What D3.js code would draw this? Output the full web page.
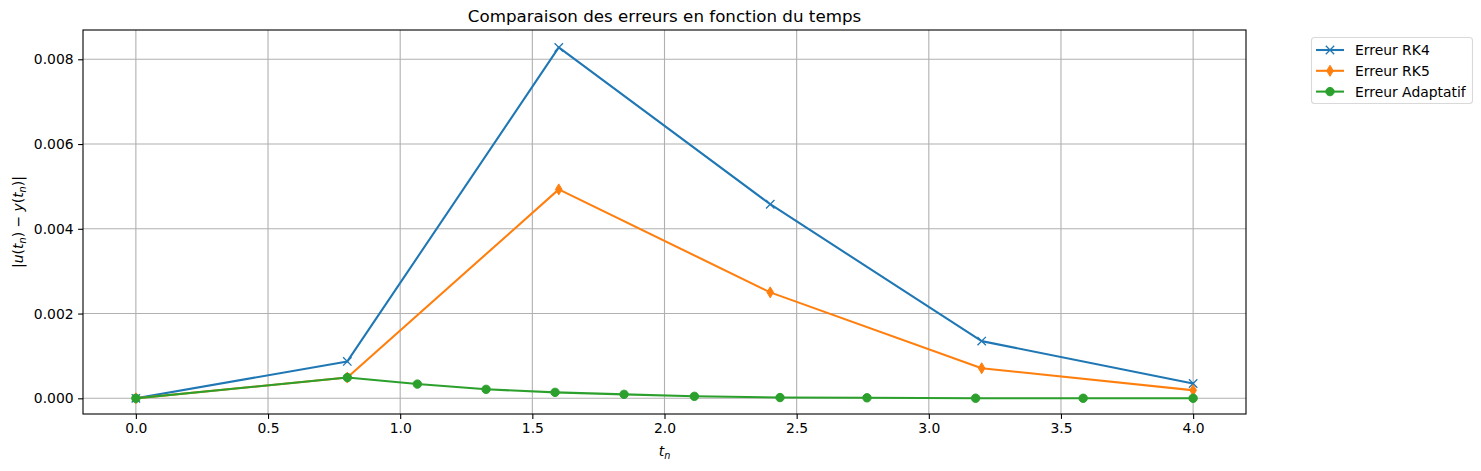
<!DOCTYPE html>
<html lang="en">
  <head>
    <meta charset="utf-8" />
    <title>Comparaison des erreurs</title>
    <style>
      html, body { margin: 0; padding: 0; background: #fff; }
      svg { display: block; font-family: "DejaVu Sans", sans-serif; }
    </style>
    <script src="https://d3js.org/d3.v7.min.js"></script>
  </head>
  <body>
    <svg width="1481" height="471"></svg>
    <script>
      // values
      var tFixed = [0, 0.8, 1.6, 2.4, 3.2, 4.0];
      var errRK4 = [0, 0.00087, 0.00828, 0.00458, 0.00135, 0.00035];
      var errRK5 = [0, 0.00049, 0.00493, 0.00250, 0.00071, 0.00019];
      var tAdapt = [0, 0.8, 1.065, 1.325, 1.586, 1.847, 2.113, 2.437, 2.766, 3.177, 3.584, 4.0];
      var errAdapt = [0, 0.00049, 0.000336, 0.000212, 0.000141, 0.000094, 0.000047, 0.000018, 0.000012, 0.000003, 0.000001, 0.0000005];
      var xTicks = [0, 0.5, 1.0, 1.5, 2.0, 2.5, 3.0, 3.5, 4.0];
      var yTicks = [0, 0.002, 0.004, 0.006, 0.008];

      var svg = d3.select('svg'),
        pL = 83, pR = 1246, pT = 30, pB = 414;

      var x = d3.scaleLinear().domain([-0.2, 4.2]).range([pL, pR]);
      var y = d3.scaleLinear().domain([-0.00037, 0.008691]).range([pB, pT]);

      var series = [
        { name: 'Erreur RK4', color: '#1f77b4', marker: 'x', t: tFixed, v: errRK4 },
        { name: 'Erreur RK5', color: '#ff7f0e', marker: 'd', t: tFixed, v: errRK5 },
        { name: 'Erreur Adaptatif', color: '#2ca02c', marker: 'o', t: tAdapt, v: errAdapt }
      ];

      // grid
      var grid = svg.append('g').attr('stroke', '#b0b0b0').attr('stroke-width', 1.1);
      grid.selectAll('line.gx').data(xTicks).enter().append('line')
        .attr('x1', function(d) { return x(d); }).attr('x2', function(d) { return x(d); })
        .attr('y1', pT).attr('y2', pB);
      grid.selectAll('line.gy').data(yTicks).enter().append('line')
        .attr('y1', function(d) { return y(d); }).attr('y2', function(d) { return y(d); })
        .attr('x1', pL).attr('x2', pR);

      // axes
      var xAxis = svg.append('g')
        .attr('transform', 'translate(0,' + pB + ')')
        .call(d3.axisBottom(x).tickValues(xTicks).tickFormat(d3.format('.1f')).tickSizeOuter(0).tickSize(4.9).tickPadding(4.5));
      var yAxis = svg.append('g')
        .attr('transform', 'translate(' + pL + ',0)')
        .call(d3.axisLeft(y).tickValues(yTicks).tickFormat(d3.format('.3f')).tickSizeOuter(0).tickSize(4.9).tickPadding(4.5));
      [xAxis, yAxis].forEach(function(a) {
        a.select('.domain').remove();
        a.selectAll('line').attr('stroke', '#000').attr('stroke-width', 1.1);
        a.selectAll('text').attr('font-family', 'DejaVu Sans').attr('font-size', 13.9).attr('fill', '#000');
      });

      function drawMarker(g, type, color) {
        if (type === 'x') {
          g.append('path').attr('d', 'M-4.2,-4.2L4.2,4.2M-4.2,4.2L4.2,-4.2')
            .attr('stroke', color).attr('stroke-width', 1.3).attr('fill', 'none');
        } else if (type === 'd') {
          g.append('path').attr('d', 'M0,-5.5L3.3,0L0,5.5L-3.3,0Z')
            .attr('fill', color).attr('stroke', color).attr('stroke-width', 1);
        } else {
          g.append('circle').attr('r', 4.2).attr('fill', color).attr('stroke', color).attr('stroke-width', 1);
        }
      }

      var line = d3.line()
        .x(function(d) { return x(d[0]); })
        .y(function(d) { return y(d[1]); });

      series.forEach(function(s) {
        var pts = d3.zip(s.t, s.v);
        var g = svg.append('g');
        g.append('path').datum(pts).attr('d', line)
          .attr('fill', 'none').attr('stroke', s.color).attr('stroke-width', 2.08)
          .attr('stroke-linejoin', 'round').attr('stroke-linecap', 'square');
        pts.forEach(function(p) {
          drawMarker(g.append('g').attr('transform', 'translate(' + x(p[0]) + ',' + y(p[1]) + ')'), s.marker, s.color);
        });
      });

      // frame
      svg.append('rect').attr('x', pL).attr('y', pT)
        .attr('width', pR - pL).attr('height', pB - pT)
        .attr('fill', 'none').attr('stroke', '#000').attr('stroke-width', 1.1);

      // title and labels
      svg.append('text').attr('x', (pL + pR) / 2).attr('y', 22)
        .attr('text-anchor', 'middle').attr('font-size', 16.7)
        .text('Comparaison des erreurs en fonction du temps');

      var xl = svg.append('text').attr('x', (pL + pR) / 2).attr('y', 456)
        .attr('text-anchor', 'middle').attr('font-size', 13.9);
      xl.append('tspan').attr('font-style', 'italic').text('t');
      xl.append('tspan').attr('font-style', 'italic').attr('font-size', 9.7).attr('dy', 3).text('n');

      var yl = svg.append('text')
        .attr('transform', 'translate(23,' + (pT + pB) / 2 + ') rotate(-90)')
        .attr('text-anchor', 'middle').attr('font-size', 13.9);
      yl.append('tspan').text('|');
      yl.append('tspan').attr('font-style', 'italic').text('u');
      yl.append('tspan').text('(');
      yl.append('tspan').attr('font-style', 'italic').text('t');
      yl.append('tspan').attr('font-style', 'italic').attr('font-size', 9.7).attr('dy', 3).text('n');
      yl.append('tspan').attr('dy', -3).text(') \u2212 ');
      yl.append('tspan').attr('font-style', 'italic').text('y');
      yl.append('tspan').text('(');
      yl.append('tspan').attr('font-style', 'italic').text('t');
      yl.append('tspan').attr('font-style', 'italic').attr('font-size', 9.7).attr('dy', 3).text('n');
      yl.append('tspan').attr('dy', -3).text(')|');

      // legend
      var lg = svg.append('g');
      lg.append('rect').attr('x', 1311.5).attr('y', 37.5).attr('width', 161).attr('height', 66)
        .attr('rx', 3).attr('fill', '#fff').attr('stroke', '#d9d9d9').attr('stroke-width', 1.1);
      series.forEach(function(s, i) {
        var yy = 50 + i * 20.8;
        lg.append('line').attr('x1', 1316).attr('x2', 1344).attr('y1', yy).attr('y2', yy)
          .attr('stroke', s.color).attr('stroke-width', 2.08);
        drawMarker(lg.append('g').attr('transform', 'translate(1330,' + yy + ')'), s.marker, s.color);
        lg.append('text').attr('x', 1355).attr('y', yy + 5).attr('font-size', 13.9).text(s.name);
      });
    </script>
  </body>
</html>
